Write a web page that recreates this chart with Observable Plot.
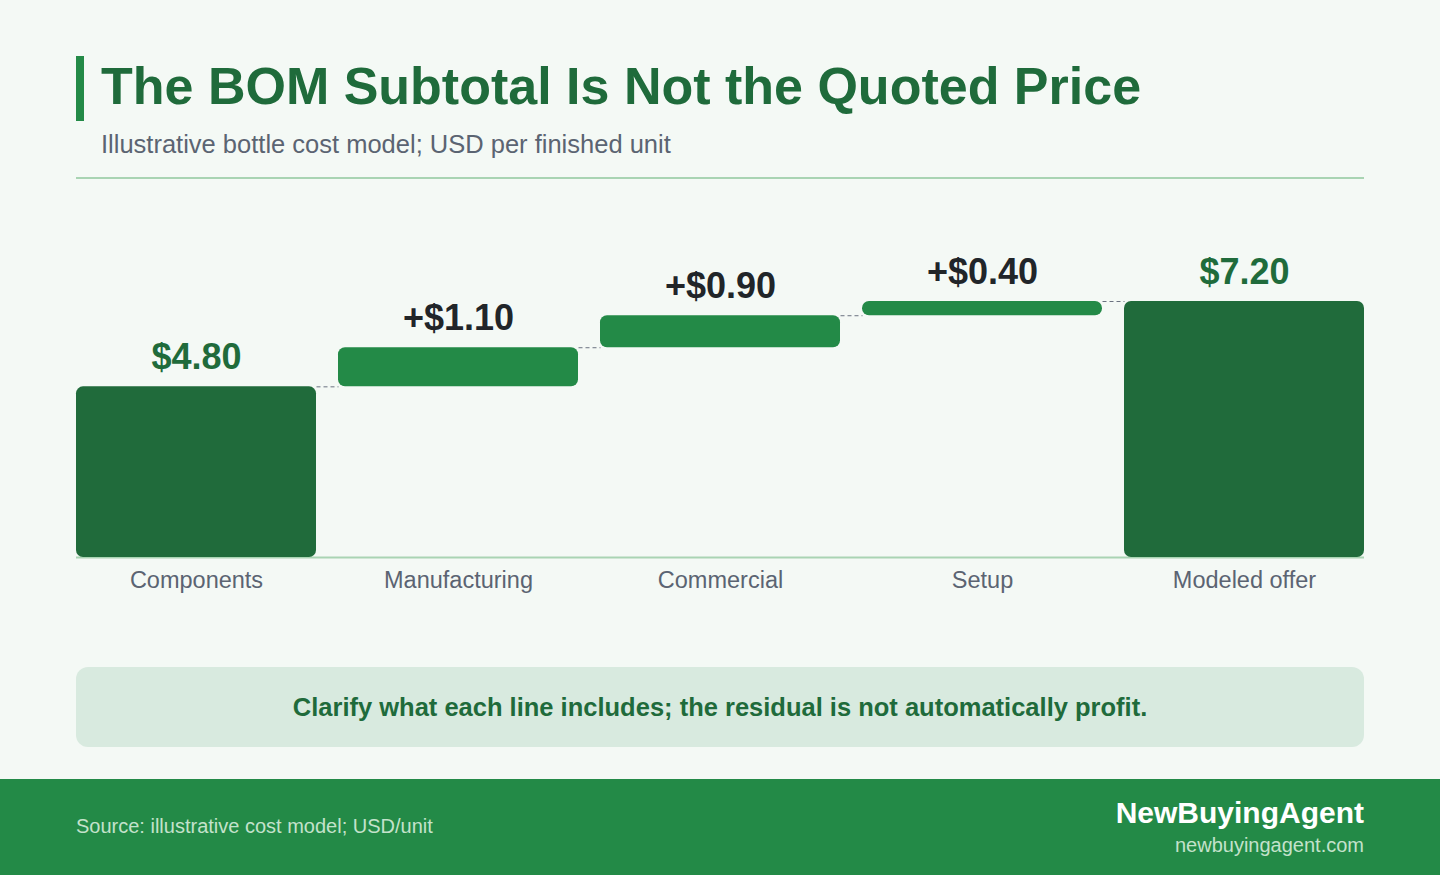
<!DOCTYPE html>
<html>
<head>
<meta charset="utf-8">
<script src="https://cdn.jsdelivr.net/npm/d3@7"></script>
<script src="https://cdn.jsdelivr.net/npm/@observablehq/plot@0.6"></script>
<style>
  html, body { margin: 0; padding: 0; }
  body { width: 1440px; height: 875px; background: #f4f9f5; position: relative; overflow: hidden;
         font-family: "Liberation Sans", Arial, Helvetica, sans-serif; }
  .accent { position: absolute; left: 76px; top: 56px; width: 8px; height: 65px; background: #238a47; }
  .title { position: absolute; left: 101px; top: 56px; font-size: 52px; font-weight: 700; color: #1f6b3b; line-height: 60px; white-space: nowrap; }
  .subtitle { position: absolute; left: 101px; top: 129px; font-size: 25.5px; color: #5b6472; line-height: 30px; white-space: nowrap; }
  .divider { position: absolute; left: 76px; top: 177px; width: 1288px; height: 2px; background: #a9d4b3; }
  #chart { position: absolute; left: 0; top: 200px; }
  .callout { position: absolute; left: 76px; top: 667px; width: 1288px; height: 80px; background: #d8eadf; border-radius: 12px;
             display: flex; align-items: center; justify-content: center; font-size: 25.5px; font-weight: 700; color: #1f6b3b; }
  .footer { position: absolute; left: 0; top: 779px; width: 1440px; height: 96px; background: #238a47; }
  .source { position: absolute; left: 76px; top: 814px; font-size: 20px; color: #c3e2cb; line-height: 24px; }
  .brand { position: absolute; right: 76px; top: 796px; font-size: 30px; font-weight: 700; color: #ffffff; line-height: 34px; }
  .url { position: absolute; right: 76px; top: 833px; font-size: 20px; color: #c3e2cb; line-height: 24px; }
</style>
</head>
<body>
<div class="accent"></div>
<div class="title">The BOM Subtotal Is Not the Quoted Price</div>
<div class="subtitle">Illustrative bottle cost model; USD per finished unit</div>
<div class="divider"></div>
<div id="chart"></div>
<div class="callout">Clarify what each line includes; the residual is not automatically profit.</div>
<div class="footer"></div>
<div class="source">Source: illustrative cost model; USD/unit</div>
<div class="brand">NewBuyingAgent</div>
<div class="url">newbuyingagent.com</div>
<script>
const categories = ["Components", "Manufacturing", "Commercial", "Setup", "Modeled offer"];
const values = [4.80, 1.10, 0.90, 0.40, 7.20];
const kinds = ["total", "delta", "delta", "delta", "total"];
const labels = ["$4.80", "+$1.10", "+$0.90", "+$0.40", "$7.20"];

// Build waterfall table
let run = 0;
const rows = categories.map((c, i) => {
  let start, end;
  if (kinds[i] === "total") { start = 0; end = values[i]; run = values[i]; }
  else { start = run; end = run + values[i]; run = end; }
  return { i, category: c, start, end, kind: kinds[i], label: labels[i] };
});
const W = 240 / 262; // bar width relative to step
const links = rows.slice(0, -1).map((r, k) => ({ x1: r.i + W / 2, x2: rows[k + 1].i - W / 2, y: r.end }));

const chart = Plot.plot({
  width: 1440,
  height: 420,
  marginLeft: 76,
  marginRight: 76,
  marginTop: 0,
  marginBottom: 63,
  style: { background: "transparent", fontFamily: "'Liberation Sans', Arial, sans-serif", overflow: "visible" },
  x: { type: "linear", domain: [-W / 2, categories.length - 1 + W / 2], axis: null },
  y: { domain: [0, 7.2], range: [357, 101], axis: null },
  marks: [
    Plot.ruleY([0], { stroke: "#a9d4b3", strokeWidth: 2 }),
    Plot.link(links, { x1: "x1", x2: "x2", y1: "y", y2: "y", stroke: "#6b7280", strokeWidth: 1, strokeDasharray: "4,3" }),
    Plot.rect(rows, {
      x1: d => d.i - W / 2, x2: d => d.i + W / 2, y1: "start", y2: "end",
      fill: d => d.kind === "total" ? "#206b3b" : "#238a47", rx: 7
    }),
    Plot.text(rows, {
      x: "i", y: "end", text: "label", dy: -29,
      fill: d => d.kind === "total" ? "#206b3b" : "#212529",
      fontSize: 36, fontWeight: 700
    }),
    Plot.axisX({ ticks: rows.map(d => d.i), tickFormat: i => categories[i], tickSize: 0, tickPadding: 14,
      fontSize: 23.5, color: "#5b6472", label: null })
  ]
});
document.getElementById("chart").appendChild(chart);
</script>
</body>
</html>
